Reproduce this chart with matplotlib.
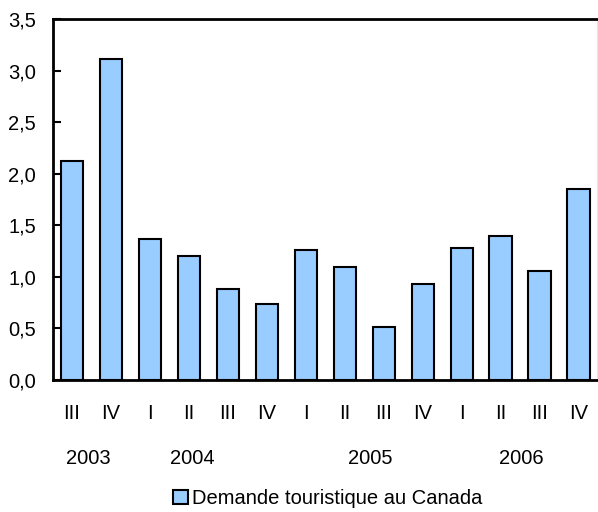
import matplotlib
matplotlib.use("Agg")
import matplotlib.pyplot as plt
from matplotlib.patches import Patch
from matplotlib.ticker import FuncFormatter

plt.rcParams['font.family'] = ['Liberation Sans', 'DejaVu Sans']

quarters = ["III", "IV", "I", "II", "III", "IV", "I", "II", "III", "IV", "I", "II", "III", "IV"]
values = [2.12, 3.11, 1.37, 1.20, 0.88, 0.74, 1.26, 1.10, 0.51, 0.93, 1.28, 1.40, 1.06, 1.85]
years = ["2003", "2004", "2005", "2006"]
year_pos = [0.41, 3.09, 7.66, 11.53]
series_name = "Demande touristique au Canada"

FS = 14.5

fig = plt.figure(figsize=(5.98, 5.12), dpi=100)
ax = fig.add_axes([52.5 / 598, 132 / 512, (598 - 52.5) / 598, 361 / 512])

x = list(range(len(values)))
ax.bar(x, values, width=0.57, color="#99CCFF", edgecolor="black", linewidth=1.5, zorder=3)

ax.set_xlim(-0.5, len(values) - 0.5)
ax.set_ylim(0, 3.5)
ax.set_yticks([0, 0.5, 1.0, 1.5, 2.0, 2.5, 3.0, 3.5])
ax.yaxis.set_major_formatter(FuncFormatter(lambda v, p: f"{v:.1f}".replace(".", ",")))
ax.tick_params(axis="y", direction="in", length=6, width=1.5, pad=12, labelsize=FS)
ax.set_xticks(x)
ax.set_xticklabels(quarters)
ax.tick_params(axis="x", length=0, pad=17.5, labelsize=FS)

for s in ["left", "bottom", "top"]:
    ax.spines[s].set_linewidth(2)
    ax.spines[s].set_color("black")
ax.spines["right"].set_linewidth(1)
ax.spines["right"].set_color("#777777")

for yl, xp in zip(years, year_pos):
    ax.text(xp, -0.217, yl, transform=ax.get_xaxis_transform(), ha="center", va="center", fontsize=FS)

handle = Patch(facecolor="#99CCFF", edgecolor="black", linewidth=1.5)
fig.legend([handle], [series_name], loc="center", bbox_to_anchor=(0.548, 0.026),
           frameon=False, fontsize=FS, handlelength=0.7, handleheight=0.7,
           handletextpad=0.2, borderaxespad=0)

fig.savefig("out.png", dpi=100)
